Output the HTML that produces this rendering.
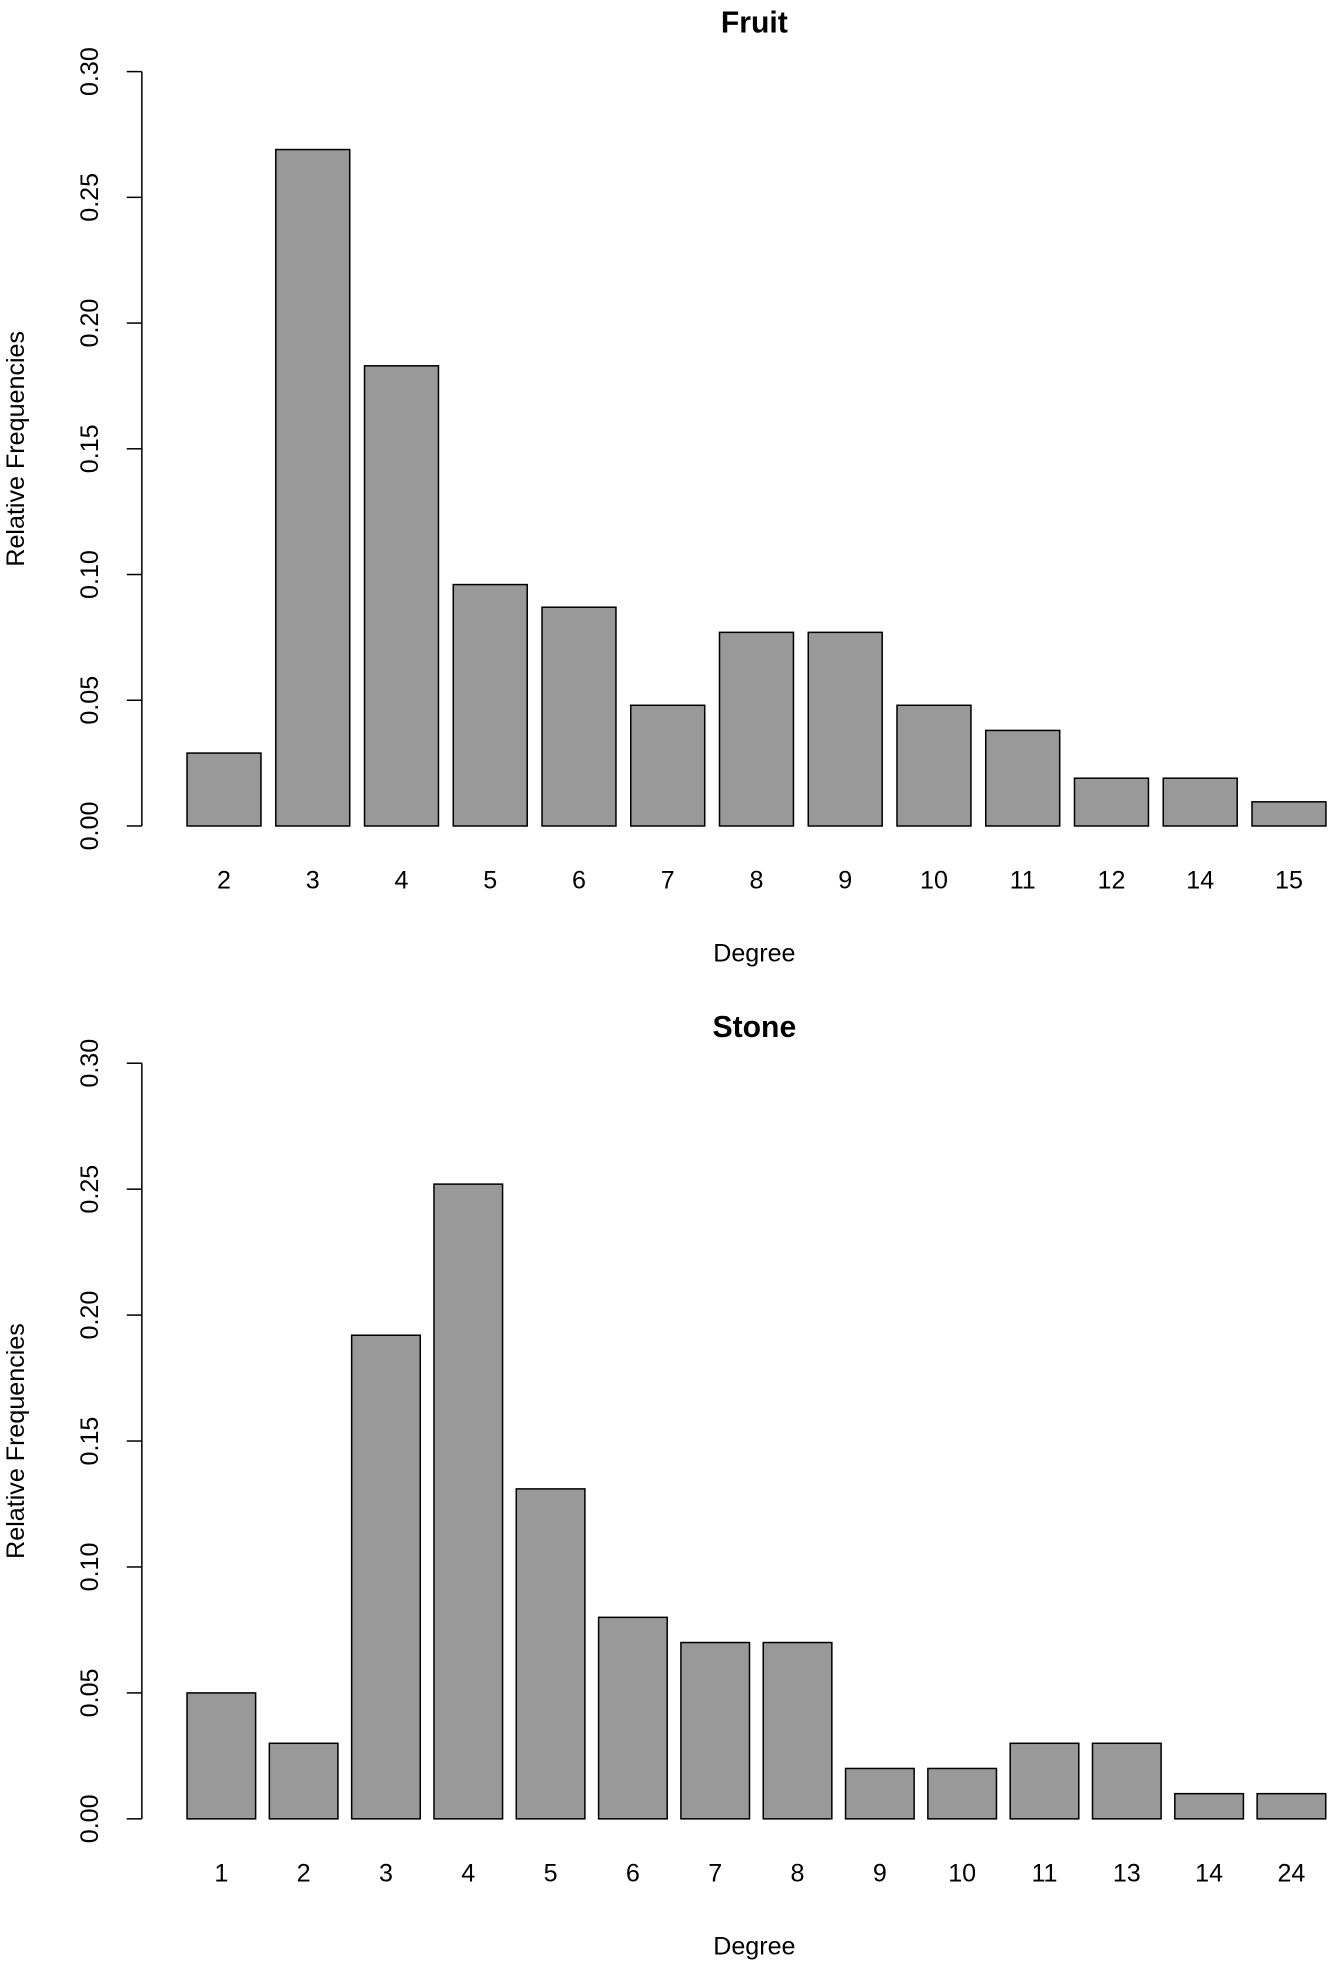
<!DOCTYPE html>
<html><head><meta charset="utf-8"><style>
html,body{margin:0;padding:0;background:#fff;}
svg{display:block;font-family:"Liberation Sans",Arial,sans-serif;}
</style></head><body>
<svg id="chart" width="1328" height="1962" viewBox="0 0 1058 1563" xmlns="http://www.w3.org/2000/svg"></svg>
<script>
const fruitCategories = ["2","3","4","5","6","7","8","9","10","11","12","14","15"];
const fruitValues = [0.029,0.269,0.183,0.096,0.087,0.048,0.077,0.077,0.048,0.038,0.019,0.019,0.0096];
const stoneCategories = ["1","2","3","4","5","6","7","8","9","10","11","13","14","24"];
const stoneValues = [0.050,0.030,0.192,0.252,0.131,0.080,0.070,0.070,0.020,0.020,0.030,0.030,0.010,0.010];
const yTicks = [0,0.05,0.10,0.15,0.20,0.25,0.30];
const yTickLabels = ["0.00","0.05","0.10","0.15","0.20","0.25","0.30"];

const svg = document.getElementById('chart');
const NS = 'http://www.w3.org/2000/svg';
function mk(tag, attrs, parent){const e=document.createElementNS(NS,tag);for(const k in attrs)e.setAttribute(k,attrs[k]);parent.appendChild(e);return e;}

function panel(key, title, cats, vals, y0, y30, titleY){
  const g = mk('g',{},svg);
  
  
  const yScale = v => y0 - (v/0.30)*(y0-y30);
  const left = 149, right = 1054;
  const pitch = (right-left)/(cats.length - 0.2);
  const w = pitch/1.2;
  const xScale = i => left + i*pitch;
  const t = mk('text',{x:601,y:titleY,'text-anchor':'middle','font-size':24,'font-weight':'bold',fill:'#000'},g);
  t.textContent = title;
  
  
  const ax = mk('line',{x1:113,x2:113,y1:y30,y2:y0,stroke:'#000','stroke-width':1.2},g);
  
  
  yTicks.forEach((v,i)=>{
    const y = yScale(v);
    mk('line',{x1:101,x2:113,y1:y,y2:y,stroke:'#000','stroke-width':1.2},g);
    const lb = mk('text',{x:0,y:0,transform:`translate(78,${y}) rotate(-90)`,'text-anchor':'middle','font-size':20,fill:'#000'},g);
    lb.textContent = yTickLabels[i];
    
    
  });
  const yl = mk('text',{x:0,y:0,transform:`translate(19,${(y0+y30)/2}) rotate(-90)`,'text-anchor':'middle','font-size':20,fill:'#000'},g);
  yl.textContent = 'Relative Frequencies';
  
  
  cats.forEach((c,i)=>{
    const x = xScale(i);
    const y = yScale(vals[i]);
    const r = mk('rect',{x:x,y:y,width:w,height:y0-y,fill:'#999999',stroke:'#000','stroke-width':1.2},g);
    
    
    const lb = mk('text',{x:x+w/2,y:y0+50,'text-anchor':'middle','font-size':20,fill:'#000'},g);
    lb.textContent = c;
    
    
  });
  const xl = mk('text',{x:601,y:y0+108,'text-anchor':'middle','font-size':20,fill:'#000'},g);
  xl.textContent = 'Degree';
  
  
}
panel('fruit','Fruit',fruitCategories,fruitValues,658,57,26);
panel('stone','Stone',stoneCategories,stoneValues,1449,847,826);
</script>
</body></html>
